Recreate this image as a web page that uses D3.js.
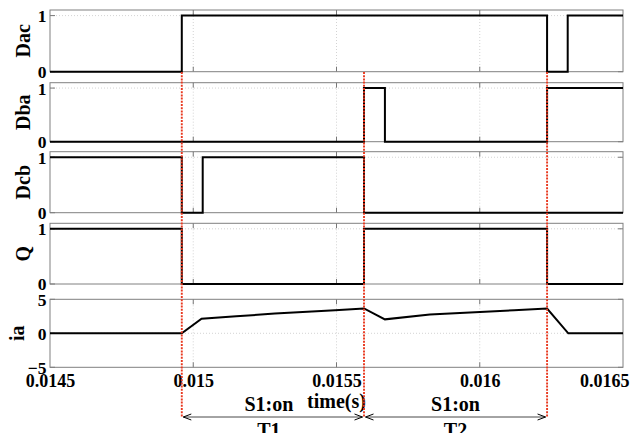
<!DOCTYPE html>
<html><head><meta charset="utf-8">
<script src="https://cdn.jsdelivr.net/npm/d3@7"></script>
<style>
body{margin:0;background:#fff}
text{font-family:"Liberation Serif","Times New Roman",serif;font-weight:bold;fill:#000}
</style>
</head><body>
<svg id="c" width="630" height="433"></svg>
<script>
// ---------- data ----------
const timeTicks = [0.0145, 0.015, 0.0155, 0.016, 0.0165];
const timeTickLabels = ["0.0145", "0.015", "0.0155", "0.016", "0.0165"];
const panelNames = ["Dac", "Dba", "Dcb", "Q", "ia"];
const digitalTicks = [0, 1];
const iaTicks = [-5, 0, 5];
const tEnd = 0.0165;

// step signals: switching times and values after each switch
const dacT = [0.0145, 0.01496, 0.016235, 0.016307];
const dacV = [0, 1, 0, 1];
const dbaT = [0.0145, 0.015596, 0.015669, 0.016235];
const dbaV = [0, 1, 0, 1];
const dcbT = [0.0145, 0.01496, 0.015033, 0.015596];
const dcbV = [1, 0, 1, 0];
const qT   = [0.0145, 0.01496, 0.015596, 0.016235];
const qV   = [1, 0, 1, 0];

// phase current ia
const iaT = [0.0145, 0.01496, 0.015029, 0.01515, 0.015285, 0.015495, 0.015596,
             0.015669, 0.015826, 0.016001, 0.01612, 0.016235, 0.016309, 0.0165];
const iaV = [0, 0, 2.15, 2.5, 2.9, 3.4, 3.65,
             2.05, 2.75, 3.15, 3.4, 3.65, 0, 0];

const eventTimes = [0.01496, 0.015596, 0.016235];
const stateLabels = ["S1:on", "S1:on"];
const intervalLabels = ["T1", "T2"];
const xLabel = "time(s)";

// ---------- layout ----------
const svg = d3.select("#c");
const x = d3.scaleLinear().domain([0.0145, 0.0165]).range([50, 623]);
const boxes = [
  {top: 10,    bottom: 71.7},
  {top: 82.7,  bottom: 141.7},
  {top: 151.7, bottom: 212.7},
  {top: 223.3, bottom: 284},
  {top: 299.3, bottom: 367.3}
];
const stepSeries = [[dacT, dacV], [dbaT, dbaV], [dcbT, dcbV], [qT, qV]];

boxes.forEach((b, i) => {
  const isIa = i === 4;
  const y = d3.scaleLinear().domain(isIa ? [-5, 5] : [0, 1.1]).range([b.bottom, b.top]);
  const ticks = isIa ? iaTicks : digitalTicks;
  const g = svg.append("g");

  // grid
  g.selectAll(".gx").data(timeTicks.slice(1, -1)).enter().append("line")
    .attr("x1", d => x(d)).attr("x2", d => x(d)).attr("y1", b.top).attr("y2", b.bottom)
    .attr("stroke", "#c8c8c8").attr("stroke-width", 0.8).attr("stroke-dasharray", "1,2");
  g.selectAll(".gy").data(ticks.filter(t => y(t) > b.top + 1 && y(t) < b.bottom - 1)).enter().append("line")
    .attr("x1", 50).attr("x2", 623).attr("y1", d => y(d)).attr("y2", d => y(d))
    .attr("stroke", "#c8c8c8").attr("stroke-width", 0.8).attr("stroke-dasharray", "1,2");

  // inward ticks
  timeTicks.slice(1, -1).forEach(t => {
    g.append("line").attr("x1", x(t)).attr("x2", x(t)).attr("y1", b.bottom).attr("y2", b.bottom - 5)
      .attr("stroke", "#777").attr("stroke-width", 1);
    g.append("line").attr("x1", x(t)).attr("x2", x(t)).attr("y1", b.top).attr("y2", b.top + 5)
      .attr("stroke", "#777").attr("stroke-width", 1);
  });
  ticks.forEach(t => {
    g.append("line").attr("x1", 50).attr("x2", 55).attr("y1", y(t)).attr("y2", y(t))
      .attr("stroke", "#777").attr("stroke-width", 1);
    g.append("line").attr("x1", 618).attr("x2", 623).attr("y1", y(t)).attr("y2", y(t))
      .attr("stroke", "#777").attr("stroke-width", 1);
  });

  // y tick labels via axis
  const ax = g.append("g").attr("transform", "translate(50,0)")
    .call(d3.axisLeft(y).tickValues(ticks).tickSize(0).tickPadding(4).tickFormat(d3.format("d")));
  ax.select(".domain").remove();
  ax.selectAll("text").style("font-size", "17.5px").attr("font-family", null)
    .attr("dy", "0.34em").attr("x", -3.5);

  // border
  g.append("rect").attr("x", 50).attr("y", b.top).attr("width", 573).attr("height", b.bottom - b.top)
    .attr("fill", "none").attr("stroke", "#808080").attr("stroke-width", 1);

  // signal
  let pts;
  if (isIa) {
    pts = iaT.map((t, k) => [t, iaV[k]]);
  } else {
    const [T, V] = stepSeries[i];
    pts = T.map((t, k) => [t, V[k]]);
    pts.push([tEnd, V[V.length - 1]]);
  }
  const line = d3.line().x(d => x(d[0])).y(d => y(d[1]))
    .curve(isIa ? d3.curveLinear : d3.curveStepAfter);
  g.append("path").attr("d", line(pts)).attr("fill", "none")
    .attr("stroke", "#000").attr("stroke-width", 2).attr("stroke-linejoin", "miter");

  // y title
  const cy = (b.top + b.bottom) / 2;
  svg.append("text").attr("transform", `translate(${isIa ? 23.5 : 30},${cy}) rotate(-90)`)
    .attr("text-anchor", "middle").style("font-size", "20px").text(panelNames[i]);
});

// x tick labels on bottom panel
const xb = svg.append("g").attr("transform", `translate(0,${boxes[4].bottom})`)
  .call(d3.axisBottom(x).tickValues(timeTicks).tickSize(0)
    .tickFormat((d, k) => timeTickLabels[k]));
xb.select(".domain").remove();
xb.selectAll("text").style("font-size", "18px").attr("font-family", null)
  .attr("dy", 0).attr("y", 20);
xb.selectAll(".tick").filter((d, k) => k === timeTicks.length - 1)
  .select("text").attr("text-anchor", "end").attr("x", 6);

// x label
svg.append("text").attr("x", (x.range()[0] + x.range()[1]) / 2).attr("y", 408)
  .attr("text-anchor", "middle").style("font-size", "20px").text(xLabel);

// red event lines
svg.selectAll(".ev").data(eventTimes).enter().append("line")
  .attr("x1", d => x(d)).attr("x2", d => x(d)).attr("y1", 72).attr("y2", 417)
  .attr("stroke", "#e8381f").attr("stroke-width", 1.9).attr("stroke-dasharray", "2,1.2");

// interval arrows
const ay = 417;
for (let k = 0; k < eventTimes.length - 1; k++) {
  const x0 = x(eventTimes[k]) + 1.5, x1 = x(eventTimes[k + 1]) - 1.5;
  svg.append("line").attr("x1", x0).attr("x2", x1).attr("y1", ay).attr("y2", ay)
    .attr("stroke", "#333").attr("stroke-width", 0.9);
  svg.append("path").attr("d", `M${x0 + 8},${ay - 3} L${x0},${ay} L${x0 + 8},${ay + 3}`)
    .attr("fill", "none").attr("stroke", "#000").attr("stroke-width", 1);
  svg.append("path").attr("d", `M${x1 - 8},${ay - 3} L${x1},${ay} L${x1 - 8},${ay + 3}`)
    .attr("fill", "none").attr("stroke", "#000").attr("stroke-width", 1);
  const cx = (x0 + x1) / 2 - (k === 0 ? 4 : 0);
  svg.append("text").attr("x", cx).attr("y", 411).attr("text-anchor", "middle")
    .style("font-size", "20px").text(stateLabels[k]);
  svg.append("text").attr("x", cx).attr("y", 436.5).attr("text-anchor", "middle")
    .style("font-size", "20px").text(intervalLabels[k]);
}
</script>
</body></html>
